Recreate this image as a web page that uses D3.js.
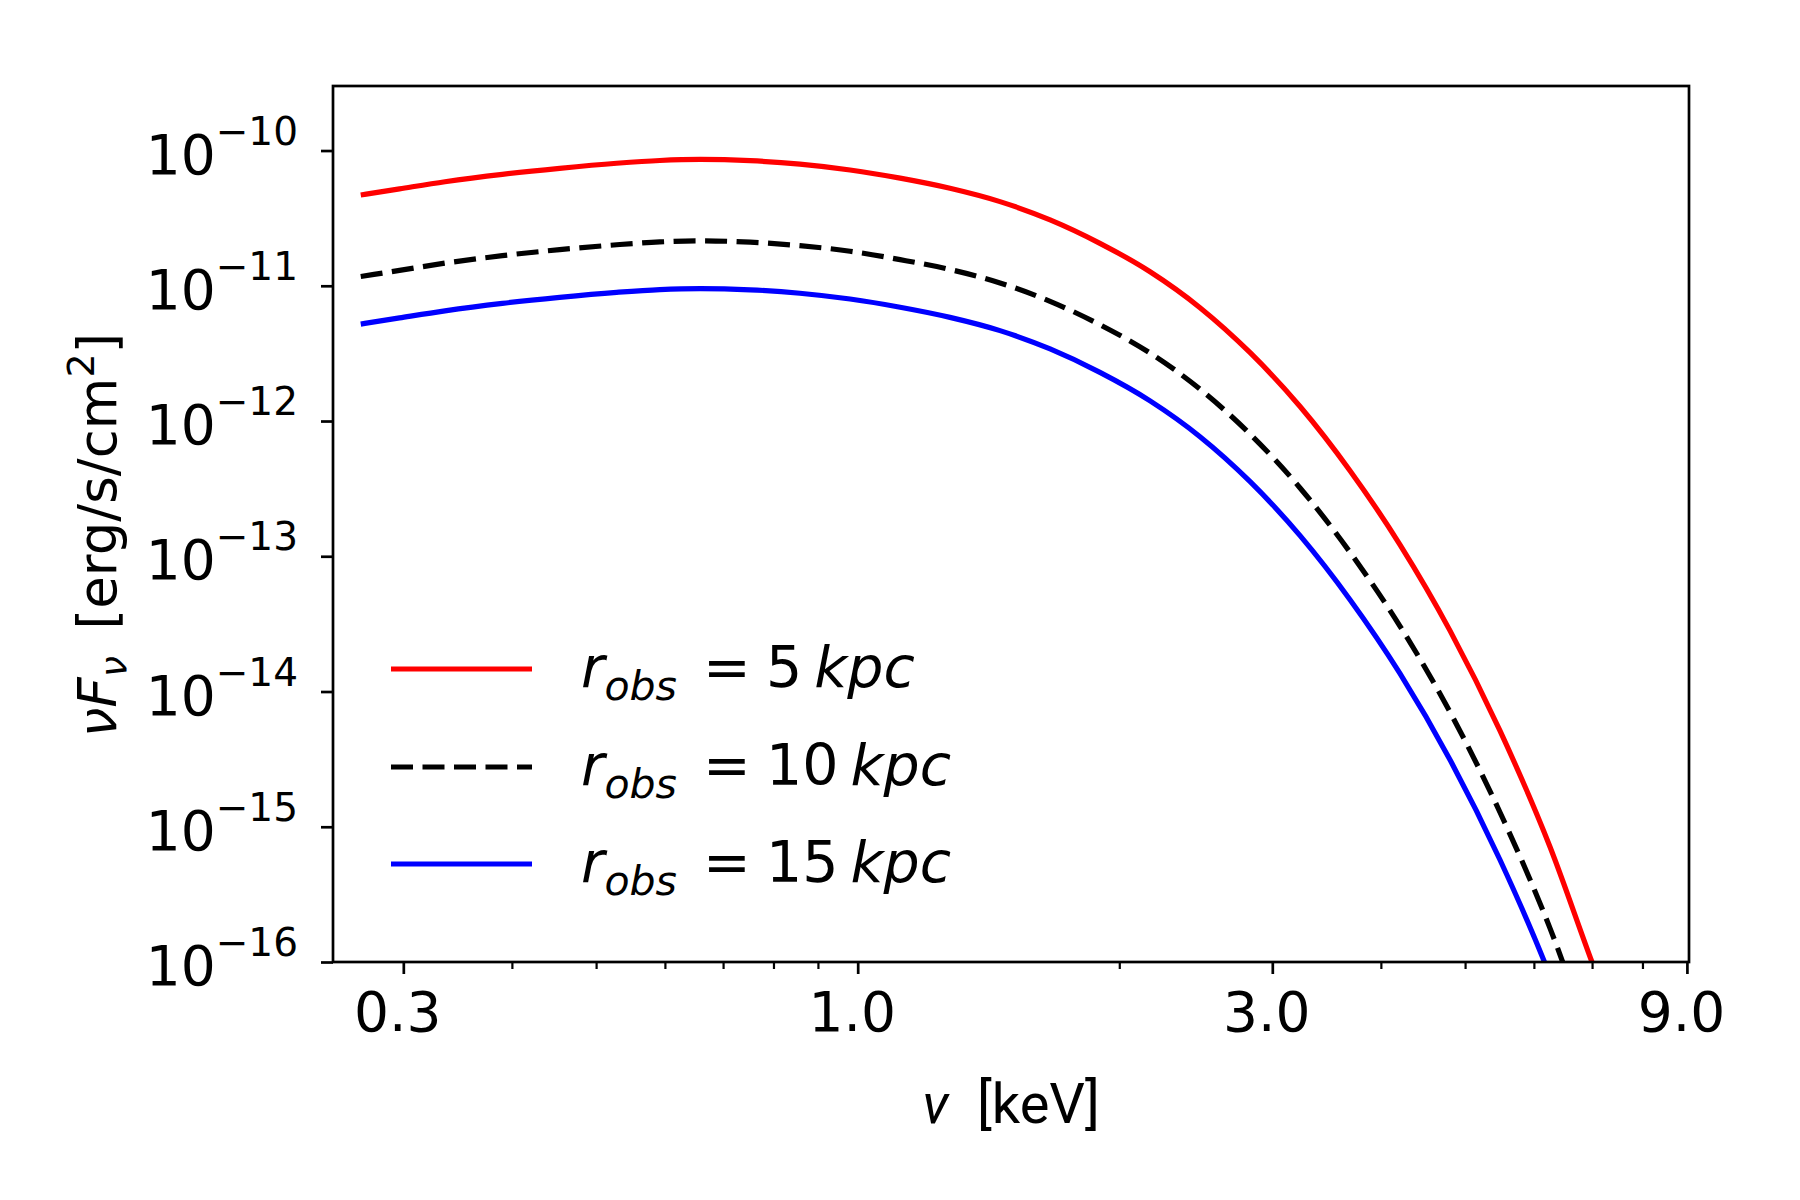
<!DOCTYPE html>
<html>
<head>
<meta charset="utf-8">
<script src="https://cdn.jsdelivr.net/npm/d3@7/dist/d3.min.js"></script>
<style>
  html, body { margin: 0; padding: 0; background: #fff; }
  svg { display: block; }
  text { font-family: "DejaVu Sans", sans-serif; fill: #000; }
</style>
</head>
<body>
<svg id="chart" width="1800" height="1200"></svg>
<script>
// ---------------- data ----------------
const energy_keV = [0.268, 0.297, 0.335, 0.390, 0.454, 0.528, 0.592, 0.659, 0.752, 0.858,
  0.980, 1.119, 1.277, 1.458, 1.665, 1.900, 2.170, 2.477, 2.829, 3.229, 3.686, 4.207,
  4.804, 5.484, 6.261, 6.998, 7.34];

const flux_5kpc = [4.69e-11, 5.21e-11, 5.88e-11, 6.67e-11, 7.39e-11, 8.05e-11, 8.44e-11, 8.59e-11,
  8.41e-11, 7.93e-11, 7.18e-11, 6.25e-11, 5.26e-11, 4.19e-11, 3.07e-11, 2.06e-11, 1.27e-11,
  6.89e-12, 3.20e-12, 1.28e-12, 4.29e-13, 1.22e-13, 2.82e-14, 5.13e-15, 7.12e-16, 1.00e-16,
  4.42e-17];

const flux_10kpc = [1.17e-11, 1.30e-11, 1.47e-11, 1.67e-11, 1.85e-11, 2.01e-11, 2.11e-11, 2.15e-11,
  2.10e-11, 1.98e-11, 1.80e-11, 1.56e-11, 1.32e-11, 1.05e-11, 7.68e-12, 5.15e-12, 3.18e-12,
  1.72e-12, 8.0e-13, 3.2e-13, 1.07e-13, 3.05e-14, 7.05e-15, 1.28e-15, 1.78e-16, 2.5e-17,
  1.1e-17];

const flux_15kpc = [5.21e-12, 5.79e-12, 6.53e-12, 7.41e-12, 8.21e-12, 8.94e-12, 9.38e-12, 9.54e-12,
  9.34e-12, 8.81e-12, 7.98e-12, 6.94e-12, 5.84e-12, 4.66e-12, 3.41e-12, 2.29e-12, 1.41e-12,
  7.66e-13, 3.56e-13, 1.42e-13, 4.77e-14, 1.36e-14, 3.13e-15, 5.70e-16, 7.91e-17, 1.11e-17,
  4.91e-18];

const series_labels = ["5", "10", "15"];
const x_major_ticks = [0.3, 1.0, 3.0, 9.0];
const x_minor_ticks = [0.4, 0.5, 0.6, 0.7, 0.8, 0.9, 2, 4, 5, 6, 7, 8];
const y_tick_exponents = [-16, -15, -14, -13, -12, -11, -10];

// ---------------- layout ----------------
const L = 333, T = 86, R = 1689, B = 962;
const svg = d3.select("#chart");

const x = d3.scaleLog().domain([0.249, 9.05]).range([L, R]);
const y = d3.scaleLog().domain([1e-16, 3e-10]).range([B, T]);

svg.append("defs").append("clipPath").attr("id", "clip")
  .append("rect").attr("x", L).attr("y", T).attr("width", R - L).attr("height", B - T);

const series = [
  { values: flux_5kpc, color: "#ff0000", dash: null, label: series_labels[0] },
  { values: flux_10kpc, color: "#000000", dash: "22,9.5", label: series_labels[1] },
  { values: flux_15kpc, color: "#0000ff", dash: null, label: series_labels[2] }
];

const line = d3.line()
  .x(d => x(d[0]))
  .y(d => y(d[1]))
  .curve(d3.curveMonotoneX);

const gLines = svg.append("g").attr("clip-path", "url(#clip)");
series.forEach(s => {
  gLines.append("path")
    .datum(energy_keV.map((e, i) => [e, s.values[i]]))
    .attr("d", line)
    .attr("fill", "none")
    .attr("stroke", s.color)
    .attr("stroke-width", 5.2)
    .attr("stroke-dasharray", s.dash);
});

// ---------------- axes ----------------
const axisStroke = 2.7;
const xAxis = svg.append("g").attr("transform", `translate(0,${B})`)
  .call(d3.axisBottom(x).tickValues(x_major_ticks).tickFormat(d3.format(".1f")).tickSize(12).tickPadding(18));
xAxis.select(".domain").remove();
xAxis.selectAll(".tick line").attr("stroke", "#000").attr("stroke-width", axisStroke);
xAxis.selectAll(".tick text").attr("font-size", 55).attr("dy", "0.71em").attr("dx", -6)
  .style("font-family", "'DejaVu Sans', sans-serif");

const xMinor = svg.append("g").attr("transform", `translate(0,${B})`)
  .call(d3.axisBottom(x).tickValues(x_minor_ticks).tickFormat("").tickSize(7));
xMinor.select(".domain").remove();
xMinor.selectAll(".tick line").attr("stroke", "#000").attr("stroke-width", 2.2);

const yAxis = svg.append("g").attr("transform", `translate(${L},0)`)
  .call(d3.axisLeft(y).tickValues(y_tick_exponents.map(e => Math.pow(10, e))).tickFormat("").tickSize(12));
yAxis.select(".domain").remove();
yAxis.selectAll(".tick line").attr("stroke", "#000").attr("stroke-width", axisStroke);

y_tick_exponents.forEach(e => {
  const t = svg.append("text")
    .attr("x", 298).attr("y", y(Math.pow(10, e)) + 23)
    .attr("text-anchor", "end").attr("font-size", 55);
  t.append("tspan").text("10");
  t.append("tspan").attr("font-size", 39).attr("dy", -29).text("\u2212" + Math.abs(e));
});

// frame
svg.append("rect").attr("x", L).attr("y", T).attr("width", R - L).attr("height", B - T)
  .attr("fill", "none").attr("stroke", "#000").attr("stroke-width", axisStroke);

// axis labels
const xl = svg.append("text").attr("x", (L + R) / 2).attr("y", 1123)
  .attr("text-anchor", "middle").attr("font-size", 56)
  .style("font-family", "Roboto, 'DejaVu Sans', sans-serif");
xl.append("tspan").attr("font-style", "italic").text("\u03bd");
xl.append("tspan").text("\u2002[keV]");

const yl = svg.append("text")
  .attr("transform", `translate(116,535) rotate(-90)`)
  .attr("text-anchor", "middle").attr("font-size", 53);
yl.append("tspan").attr("font-style", "italic").text("\u03bdF");
yl.append("tspan").attr("font-style", "italic").attr("font-size", 38).attr("dy", 10).text("\u03bd");
yl.append("tspan").attr("dy", -10).text("\u2002[erg/s/cm");
yl.append("tspan").attr("font-size", 38).attr("dy", -22).text("2");
yl.append("tspan").attr("dy", 22).text("]");

// ---------------- legend ----------------
const legendRows = [669, 767, 864];
series.forEach((s, i) => {
  const yy = legendRows[i];
  svg.append("line")
    .attr("x1", 391).attr("x2", 532).attr("y1", yy).attr("y2", yy)
    .attr("stroke", s.color).attr("stroke-width", 5.2)
    .attr("stroke-dasharray", s.dash);
  const t = svg.append("text").attr("x", 581).attr("y", yy + 18).attr("font-size", 57);
  t.append("tspan").attr("font-style", "italic").text("r");
  t.append("tspan").attr("font-style", "italic").attr("font-size", 41).attr("dy", 13).text("obs");
  t.append("tspan").attr("x", 703).attr("dy", -13).text("=");
  t.append("tspan").attr("x", 766).text(s.label);
  t.append("tspan").attr("dx", 12).attr("font-style", "italic").text("kpc");
});
</script>
</body>
</html>
